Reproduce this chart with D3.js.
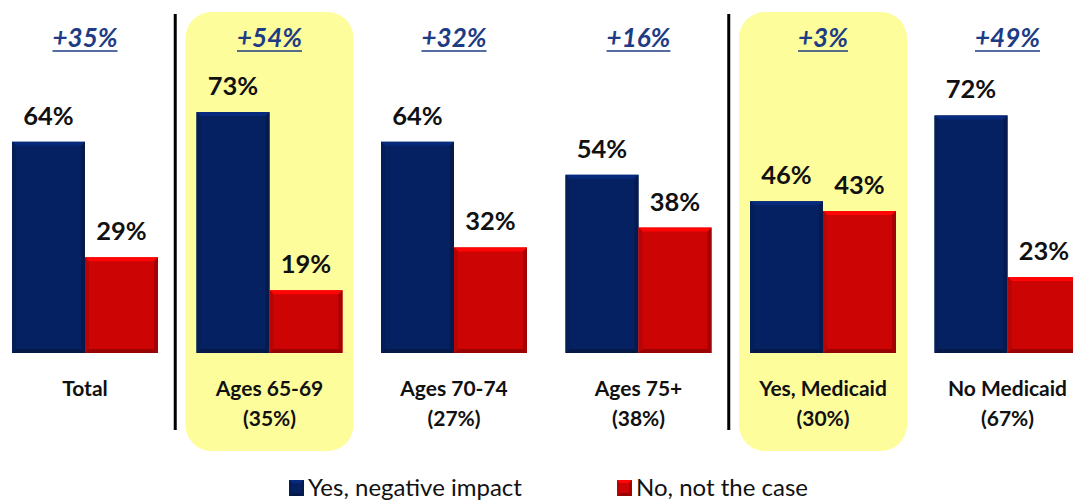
<!DOCTYPE html>
<html>
<head>
<meta charset="utf-8">
<script src="https://cdn.jsdelivr.net/npm/d3@7/dist/d3.min.js"></script>
<style>
  html, body { margin: 0; padding: 0; background: #fff; }
  svg { display: block; }
</style>
</head>
<body>
<svg id="chart" width="1073" height="500"></svg>
<script>
// Survey results by subgroup
const categories = ["Total", "Ages 65-69", "Ages 70-74", "Ages 75+", "Yes, Medicaid", "No Medicaid"];
const groupShares = ["", "(35%)", "(27%)", "(38%)", "(30%)", "(67%)"];
const yesValues = [64, 73, 64, 54, 46, 72];
const noValues = [29, 19, 32, 38, 43, 23];
const seriesNames = ["Yes, negative impact", "No, not the case"];
const highlighted = ["Ages 65-69", "Yes, Medicaid"];
const dividersAfter = ["Total", "Ages 75+"];

const colors = { yes: "#062161", no: "#cc0404" };
const FONT = "Lato, 'Open Sans', sans-serif";

const svg = d3.select("#chart");

const x = d3.scaleBand()
  .domain(categories)
  .range([-7.25, 1099.75])
  .paddingInner(0.2087)
  .paddingOuter(0.1043);

const sub = d3.scaleBand()
  .domain(["yes", "no"])
  .range([0, x.bandwidth()]);

const y = d3.scaleLinear().domain([0, 100]).range([353, 23]);

// highlight panels
const hl = svg.append("g");
highlighted.forEach(c => {
  const cx = x(c) + x.bandwidth() / 2;
  hl.append("rect")
    .attr("x", cx - 84).attr("y", 12)
    .attr("width", 168).attr("height", 439)
    .attr("rx", 26).attr("ry", 26)
    .attr("fill", "#fefd9c");
});

// divider lines
dividersAfter.forEach(c => {
  const i = categories.indexOf(c);
  const xm = (x(categories[i]) + x.bandwidth() + x(categories[i + 1])) / 2 - 2;
  svg.append("line")
    .attr("x1", xm).attr("x2", xm)
    .attr("y1", 14).attr("y2", 430)
    .attr("stroke", "#000").attr("stroke-width", 3);
});

// bevelled bar
function bevelBar(g, bx, by, bw, bh, base, b) {
  const c = d3.color(base);
  g.append("rect").attr("x", bx).attr("y", by).attr("width", bw).attr("height", bh).attr("fill", base);
  const pts = (arr) => arr.map(p => p.join(",")).join(" ");
  g.append("polygon").attr("points", pts([[bx, by], [bx + bw, by], [bx + bw - b, by + b], [bx + b, by + b]]))
    .attr("fill", c.brighter(0.7));
  g.append("polygon").attr("points", pts([[bx + bw, by], [bx + bw, by + bh], [bx + bw - b, by + bh - b], [bx + bw - b, by + b]]))
    .attr("fill", c.darker(0.6));
  g.append("polygon").attr("points", pts([[bx, by + bh], [bx + bw, by + bh], [bx + bw - b, by + bh - b], [bx + b, by + bh - b]]))
    .attr("fill", c.darker(0.8));
  g.append("polygon").attr("points", pts([[bx, by], [bx + b, by + b], [bx + b, by + bh - b], [bx, by + bh]]))
    .attr("fill", c.darker(0.3));
}

const rows = categories.map((c, i) => ({ c, yes: yesValues[i], no: noValues[i], share: groupShares[i] }));

const bars = svg.append("g");
rows.forEach(d => {
  ["yes", "no"].forEach(k => {
    const bx = x(d.c) + sub(k);
    bevelBar(bars, bx, y(d[k]), sub.bandwidth(), y(0) - y(d[k]), colors[k], 4);
    bars.append("text")
      .attr("x", bx + sub.bandwidth() / 2)
      .attr("y", y(d[k]) - 17)
      .attr("text-anchor", "middle")
      .attr("font-family", FONT)
      .attr("font-weight", "bold")
      .attr("font-size", 25.5)
      .attr("fill", "#111")
      .text(d[k] + "%");
  });

  const cx = x(d.c) + x.bandwidth() / 2;
  // net difference label
  const diff = d.yes - d.no;
  const t = svg.append("text")
    .attr("x", cx).attr("y", 47)
    .attr("text-anchor", "middle")
    .attr("font-family", FONT)
    .attr("font-weight", "bold")
    .attr("font-style", "italic")
    .attr("font-size", 26)
    .attr("fill", "#1e3c84")
    .text((diff >= 0 ? "+" : "") + diff + "%");
  const tw = t.node().getComputedTextLength();
  svg.append("line")
    .attr("x1", cx - tw / 2).attr("x2", cx + tw / 2)
    .attr("y1", 51).attr("y2", 51)
    .attr("stroke", "#1e3c84").attr("stroke-width", 1.5);

  // category labels
  const lab = svg.append("text")
    .attr("text-anchor", "middle")
    .attr("font-family", FONT)
    .attr("font-weight", "bold")
    .attr("font-size", 21)
    .attr("fill", "#111");
  lab.append("tspan").attr("x", cx).attr("y", 396).text(d.c);
  if (d.share) lab.append("tspan").attr("x", cx).attr("y", 426).text(d.share);
});

// legend
const legendX = [289, 617];
seriesNames.forEach((name, i) => {
  const k = i === 0 ? "yes" : "no";
  const g = svg.append("g");
  bevelBar(g, legendX[i], 480, 15, 16, colors[k], 3);
  g.append("text")
    .attr("x", legendX[i] + 19).attr("y", 496)
    .attr("font-family", FONT)
    .attr("font-size", 24)
    .attr("fill", "#111")
    .text(name);
});
</script>
</body>
</html>
